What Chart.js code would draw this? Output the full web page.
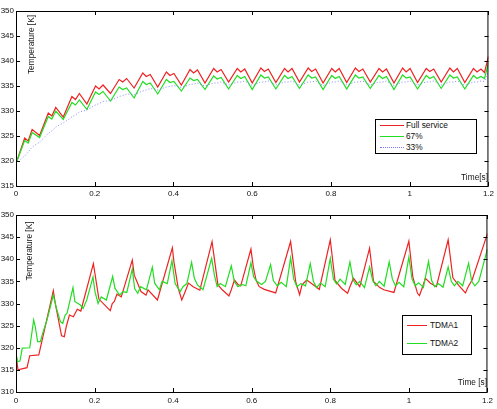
<!DOCTYPE html>
<html>
<head>
<meta charset="utf-8">
<script src="https://cdn.jsdelivr.net/npm/chart.js@4.4.0/dist/chart.umd.min.js"></script>
<style>
html,body{margin:0;padding:0;background:#fff;width:497px;height:409px;overflow:hidden;}
#wrap{position:relative;width:497px;height:409px;}
canvas{position:absolute;left:0;}
#c1{top:0;}
#c2{top:205px;}
.legend{position:absolute;border:1px solid #000;background:#fff;box-sizing:border-box;
  font-family:"Liberation Sans",Arial,Helvetica,sans-serif;font-size:8.3px;color:#111;}
.legend .sample{position:absolute;height:0;}
.legend .txt{position:absolute;line-height:10px;white-space:nowrap;}
</style>
</head>
<body>
<div id="wrap">
  <canvas id="c1" width="497" height="205"></canvas>
  <canvas id="c2" width="497" height="204"></canvas>
</div>
<script>
// ---------------- DATA ----------------
// Top panel: time samples [s]
const topTimes = [
  0.000,0.022,0.031,0.041, 0.060,0.082,0.091,0.101, 0.120,0.142,0.151,0.161, 0.180,0.202,0.211,0.221,
  0.240,0.262,0.271,0.281, 0.300,0.322,0.331,0.341, 0.360,0.382,0.391,0.401, 0.420,0.442,0.451,0.461,
  0.480,0.502,0.511,0.521, 0.540,0.562,0.571,0.581, 0.600,0.622,0.631,0.641, 0.660,0.682,0.691,0.701,
  0.720,0.742,0.751,0.761, 0.780,0.802,0.811,0.821, 0.840,0.862,0.871,0.881, 0.900,0.922,0.931,0.941,
  0.960,0.982,0.991,1.001, 1.020,1.042,1.051,1.061, 1.080,1.102,1.111,1.121, 1.140,1.162,1.171,1.181,
  1.190,1.200
];
// Temperature [K], "Full service"
const fullService = [
  319.5,324.6,324.0,326.3, 325.1,329.6,329.0,330.7, 328.8,332.9,332.3,333.5, 331.4,335.0,334.4,335.2,
  333.5,336.3,335.8,336.5, 334.6,337.6,336.9,337.3, 334.8,337.8,337.1,337.5, 335.2,338.3,337.6,338.2,
  335.6,338.5,337.8,338.3, 335.8,338.5,337.8,338.4, 335.6,338.6,337.9,338.4, 335.7,338.5,337.8,338.5,
  335.8,338.6,337.9,338.4, 335.6,338.5,337.8,338.5, 335.7,338.6,337.9,338.4, 335.8,338.5,337.8,338.4,
  335.6,338.6,337.8,338.5, 335.7,338.5,337.9,338.4, 335.8,338.6,337.8,338.5, 335.7,338.5,337.8,338.4,
  337.7,340.9
];
// Temperature [K], "67%"
const service67 = [
  319.5,324.1,323.6,325.7, 324.7,328.9,328.4,330.0, 328.3,331.7,331.2,332.2, 330.3,333.8,333.3,333.9,
  332.0,334.8,334.3,334.6, 332.6,335.9,335.3,335.6, 333.4,336.3,335.7,335.9, 334.0,336.6,336.1,336.3,
  334.3,337.0,336.4,336.7, 334.4,337.1,336.5,336.9, 334.3,337.2,336.6,336.8, 334.4,337.1,336.5,336.9,
  334.5,337.2,336.6,336.8, 334.3,337.1,336.5,336.9, 334.4,337.2,336.6,336.8, 334.5,337.1,336.5,336.9,
  334.3,337.2,336.6,336.8, 334.4,337.1,336.5,336.9, 334.5,337.2,336.6,336.8, 334.4,337.1,336.5,336.9,
  336.5,339.6
];
// Temperature [K], "33%"
const service33 = [
  319.5,321.0,321.8,322.8, 323.8,325.5,326.0,326.8, 327.6,328.8,329.2,329.8, 330.2,331.2,331.5,331.9,
  332.1,332.9,333.1,333.4, 333.3,334.0,334.2,334.5, 334.2,334.8,334.9,335.1, 334.7,335.3,335.4,335.6,
  335.0,335.6,335.6,335.8, 335.2,335.8,335.8,336.0, 335.1,335.8,335.8,336.0, 335.2,335.8,335.8,336.0,
  335.2,335.8,335.8,336.0, 335.1,335.8,335.8,336.0, 335.2,335.8,335.8,336.0, 335.2,335.8,335.8,336.0,
  335.1,335.8,335.8,336.0, 335.2,335.8,335.8,336.0, 335.2,335.8,335.8,336.0, 335.1,335.8,335.8,336.0,
  335.9,338.0
];

// Bottom panel: TDMA1
const tdma1Times = [
  0.000,0.005,0.028,0.035,0.058, 0.095,0.100,0.116,0.123,0.128,0.136,0.146,0.156,0.165,
  0.197,0.211,0.240,0.245,0.250,0.257,0.268, 0.296,0.301,0.308,0.318,0.331,0.336,0.360,
  0.398,0.402,0.413,0.422,0.429,0.439,0.451,0.468, 0.499,0.514,0.525,0.542,0.548,0.556,0.565,0.572,
  0.598,0.604,0.611,0.619,0.632,0.661, 0.699,0.712,0.722,0.728,0.740,0.760,0.772,
  0.800,0.812,0.829,0.844,0.850,0.859,0.875, 0.900,0.910,0.926,0.936,0.962,
  1.000,1.010,1.022,1.027,1.035,1.042,1.055,1.070, 1.100,1.112,1.128,1.144,1.151,1.161,1.200
];
const tdma1Temp = [
  318.6,315.0,315.5,318.2,318.4, 332.9,330.0,322.7,322.5,324.8,327.4,327.0,328.7,328.3,
  339.0,331.0,328.4,330.0,330.4,332.1,331.5, 339.8,336.4,334.9,332.7,331.9,333.1,330.8,
  342.6,339.4,333.4,330.8,332.3,334.6,333.8,333.0, 344.0,334.2,333.1,331.7,333.1,335.3,334.3,334.0,
  342.3,338.3,335.3,333.8,333.2,332.4, 344.0,334.9,332.0,334.2,335.3,334.0,333.2,
  344.4,335.2,333.4,332.3,333.8,335.7,333.8, 342.5,335.0,333.6,333.1,332.5,
  344.1,336.0,332.3,331.8,333.8,335.7,334.6,333.8, 344.4,335.8,334.0,332.4,333.8,335.3,345.8
];
// Bottom panel: TDMA2
const tdma2Times = [
  0.000,0.004,0.010,0.016,0.035, 0.045,0.049,0.055,0.062,0.069,0.079,
  0.095,0.103,0.113,0.119,0.125,0.130, 0.145,0.150,0.163,0.171,0.180,
  0.196,0.201,0.209,0.217,0.230, 0.246,0.252,0.264,0.272,0.282,
  0.296,0.302,0.310,0.317,0.332, 0.347,0.353,0.365,0.372,0.385,
  0.397,0.405,0.418,0.425,0.435, 0.447,0.454,0.462,0.476,
  0.498,0.505,0.512,0.520,0.533, 0.548,0.556,0.565,0.575,0.585,
  0.598,0.605,0.613,0.625,0.635, 0.648,0.655,0.665,0.675,0.688,
  0.699,0.707,0.715,0.725,0.737, 0.749,0.757,0.765,0.775,0.787,
  0.800,0.808,0.816,0.825,0.838, 0.850,0.858,0.866,0.875,0.887,
  0.900,0.908,0.916,0.925,0.937, 0.950,0.958,0.966,0.975,0.987,
  1.000,1.008,1.016,1.025,1.037, 1.050,1.058,1.066,1.075,1.087,
  1.100,1.108,1.116,1.125,1.137, 1.152,1.160,1.168,1.178,1.200
];
const tdma2Temp = [
  318.8,316.9,317.0,319.9,320.0, 326.3,324.8,321.4,321.4,323.6,326.3,
  331.9,328.9,325.9,325.5,327.4,327.8, 333.6,330.4,329.7,328.9,330.8,
  336.0,332.7,330.0,331.5,330.8, 336.1,333.4,331.9,332.7,332.5,
  337.8,333.4,332.3,333.8,333.1, 338.2,334.6,333.1,335.0,334.5,
  339.7,334.5,332.7,333.8,334.5, 339.3,335.7,334.2,333.1,
  340.2,336.4,333.8,334.5,333.8, 338.5,334.9,333.8,334.3,334.0,
  339.2,336.0,335.0,334.3,335.0, 338.8,335.2,334.0,334.8,333.8,
  340.3,335.5,333.8,334.5,334.0, 339.0,335.0,333.6,334.6,333.8,
  340.2,335.5,334.4,335.5,334.3, 339.4,335.3,334.2,335.0,333.6,
  338.3,335.2,334.0,335.0,333.9, 339.4,335.5,334.0,334.8,333.8,
  340.5,335.6,334.0,334.7,333.6, 339.5,335.2,333.8,334.5,333.7,
  338.3,335.0,334.0,335.0,334.0, 339.1,335.0,334.0,335.0,342.3
];

const xTickLabels = ['0','0.2','0.4','0.6','0.8','1','1.2'];
const yTitle = 'Temperature [K]';
const xTitleTop = 'Time[s]';
const xTitleBottom = 'Time [s]';

// ---------------- CHARTS ----------------
const FONT = '"Liberation Sans", Arial, Helvetica, sans-serif';
Chart.defaults.font.family = FONT;
Chart.defaults.font.size = 8;
Chart.defaults.color = '#111';

const RED = '#ee2222', GREEN = '#22dd22', BLUE = '#7a7aff';

function pts(xs, ys){ return xs.map((x,i)=>({x:x, y:ys[i]})); }

// Matlab-style box with inward ticks on all four sides
const frameTicks = {
  id: 'frameTicks',
  afterDatasetsDraw(chart){
    const {ctx, chartArea:a, scales:{x,y}} = chart;
    const L = 4;
    ctx.save();
    ctx.strokeStyle = '#000';
    ctx.lineWidth = 1;
    ctx.beginPath();
    x.ticks.forEach(t=>{
      const px = Math.round(x.getPixelForValue(t.value)) + 0.5;
      ctx.moveTo(px, a.bottom); ctx.lineTo(px, a.bottom - L);
      ctx.moveTo(px, a.top); ctx.lineTo(px, a.top + L);
    });
    y.ticks.forEach(t=>{
      const py = Math.round(y.getPixelForValue(t.value)) + 0.5;
      ctx.moveTo(a.left, py); ctx.lineTo(a.left + L, py);
      ctx.moveTo(a.right, py); ctx.lineTo(a.right - L, py);
    });
    ctx.stroke();
    ctx.strokeRect(a.left + 0.5, a.top + 0.5, a.right - a.left - 1, a.bottom - a.top);
    ctx.restore();
  }
};

// Axis titles placed inside the axes box, as in the original figure
const axisTitles = {
  id: 'axisTitles',
  afterDraw(chart, args, opts){
    const ctx = chart.ctx;
    ctx.save();
    ctx.fillStyle = '#111';
    ctx.font = '8.3px ' + FONT;
    ctx.textBaseline = 'middle';
    ctx.textAlign = 'right';
    ctx.fillText(opts.xText, opts.xRight, opts.xY);
    ctx.translate(opts.yX, opts.yTop);
    ctx.rotate(-Math.PI / 2);
    ctx.fillText(opts.yText, 0, 0);
    ctx.restore();
  }
};

function makeChart(id, datasets, cfg){
  return new Chart(document.getElementById(id), {
    type: 'line',
    data: { datasets },
    options: {
      responsive: false,
      animation: false,
      devicePixelRatio: 1,
      events: [],
      layout: { autoPadding: false, padding: { top: cfg.padTop, right: 5, left: 0, bottom: 0 } },
      elements: { point: { radius: 0 }, line: { tension: 0 } },
      plugins: {
        legend: { display: false },
        tooltip: { enabled: false },
        axisTitles: cfg.titles
      },
      scales: {
        x: {
          type: 'linear', min: 0, max: 1.2,
          grid: { display: false, drawTicks: false },
          border: { display: false },
          ticks: { stepSize: 0.2, padding: cfg.xPad, maxRotation: 0, autoSkip: false,
                   callback: (v)=>{ const i = Math.round(v/0.2); return xTickLabels[i]; } },
          afterFit: (s)=>{ s.height = cfg.xAxisH; }
        },
        y: {
          min: cfg.yMin, max: cfg.yMax,
          grid: { display: false, drawTicks: false },
          border: { display: false },
          ticks: { stepSize: 5, padding: 2 },
          afterFit: (s)=>{ s.width = 16; }
        }
      }
    },
    plugins: [frameTicks, axisTitles]
  });
}

const chartTop = makeChart('c1', [
  { label: 'Full service', data: pts(topTimes, fullService), borderColor: RED, borderWidth: 1.2, order: 3 },
  { label: '67%', data: pts(topTimes, service67), borderColor: GREEN, borderWidth: 1.2, order: 2 },
  { label: '33%', data: pts(topTimes, service33), borderColor: BLUE, borderWidth: 0.9, borderDash: [1,2], order: 1 }
], { padTop: 11, xPad: 3, xAxisH: 19, yMin: 315, yMax: 350,
     titles: { xText: xTitleTop, xRight: 488, xY: 178, yText: yTitle, yX: 31.5, yTop: 15 } });

const chartBottom = makeChart('c2', [
  { label: 'TDMA1', data: pts(tdma1Times, tdma1Temp), borderColor: RED, borderWidth: 1.2, order: 2 },
  { label: 'TDMA2', data: pts(tdma2Times, tdma2Temp), borderColor: GREEN, borderWidth: 1.2, order: 1 }
], { padTop: 10, xPad: 4, xAxisH: 17, yMin: 310, yMax: 350,
     titles: { xText: xTitleBottom, xRight: 487, xY: 177.5, yText: yTitle, yX: 30, yTop: 16.5 } });

// ---------------- HTML legends (inside plot area) ----------------
function buildLegend(chart, box){
  const el = document.createElement('div');
  el.className = 'legend';
  el.style.left = box.left + 'px'; el.style.top = box.top + 'px';
  el.style.width = box.width + 'px'; el.style.height = box.height + 'px';
  chart.data.datasets.forEach((ds, i)=>{
    const cy = box.rows[i] - box.top - 1;
    const s = document.createElement('div');
    s.className = 'sample';
    s.style.left = (box.lineX0 - box.left - 1) + 'px';
    s.style.width = (box.lineX1 - box.lineX0) + 'px';
    s.style.top = (cy - 0.5) + 'px';
    s.style.borderTop = (ds.borderDash ? '1px dotted ' : '1.2px solid ') + ds.borderColor;
    el.appendChild(s);
    const t = document.createElement('div');
    t.className = 'txt';
    t.style.left = (box.textX - box.left - 1) + 'px';
    t.style.top = (cy - 5.5) + 'px';
    t.textContent = ds.label;
    el.appendChild(t);
  });
  document.getElementById('wrap').appendChild(el);
}
buildLegend(chartTop, { left: 375, top: 119, width: 102, height: 35, rows: [125.7, 136.7, 147.7], lineX0: 380, lineX1: 404, textX: 406 });
buildLegend(chartBottom, { left: 402, top: 315, width: 70, height: 40, rows: [325, 343.3], lineX0: 407, lineX1: 427, textX: 430 });
</script>
</body>
</html>
